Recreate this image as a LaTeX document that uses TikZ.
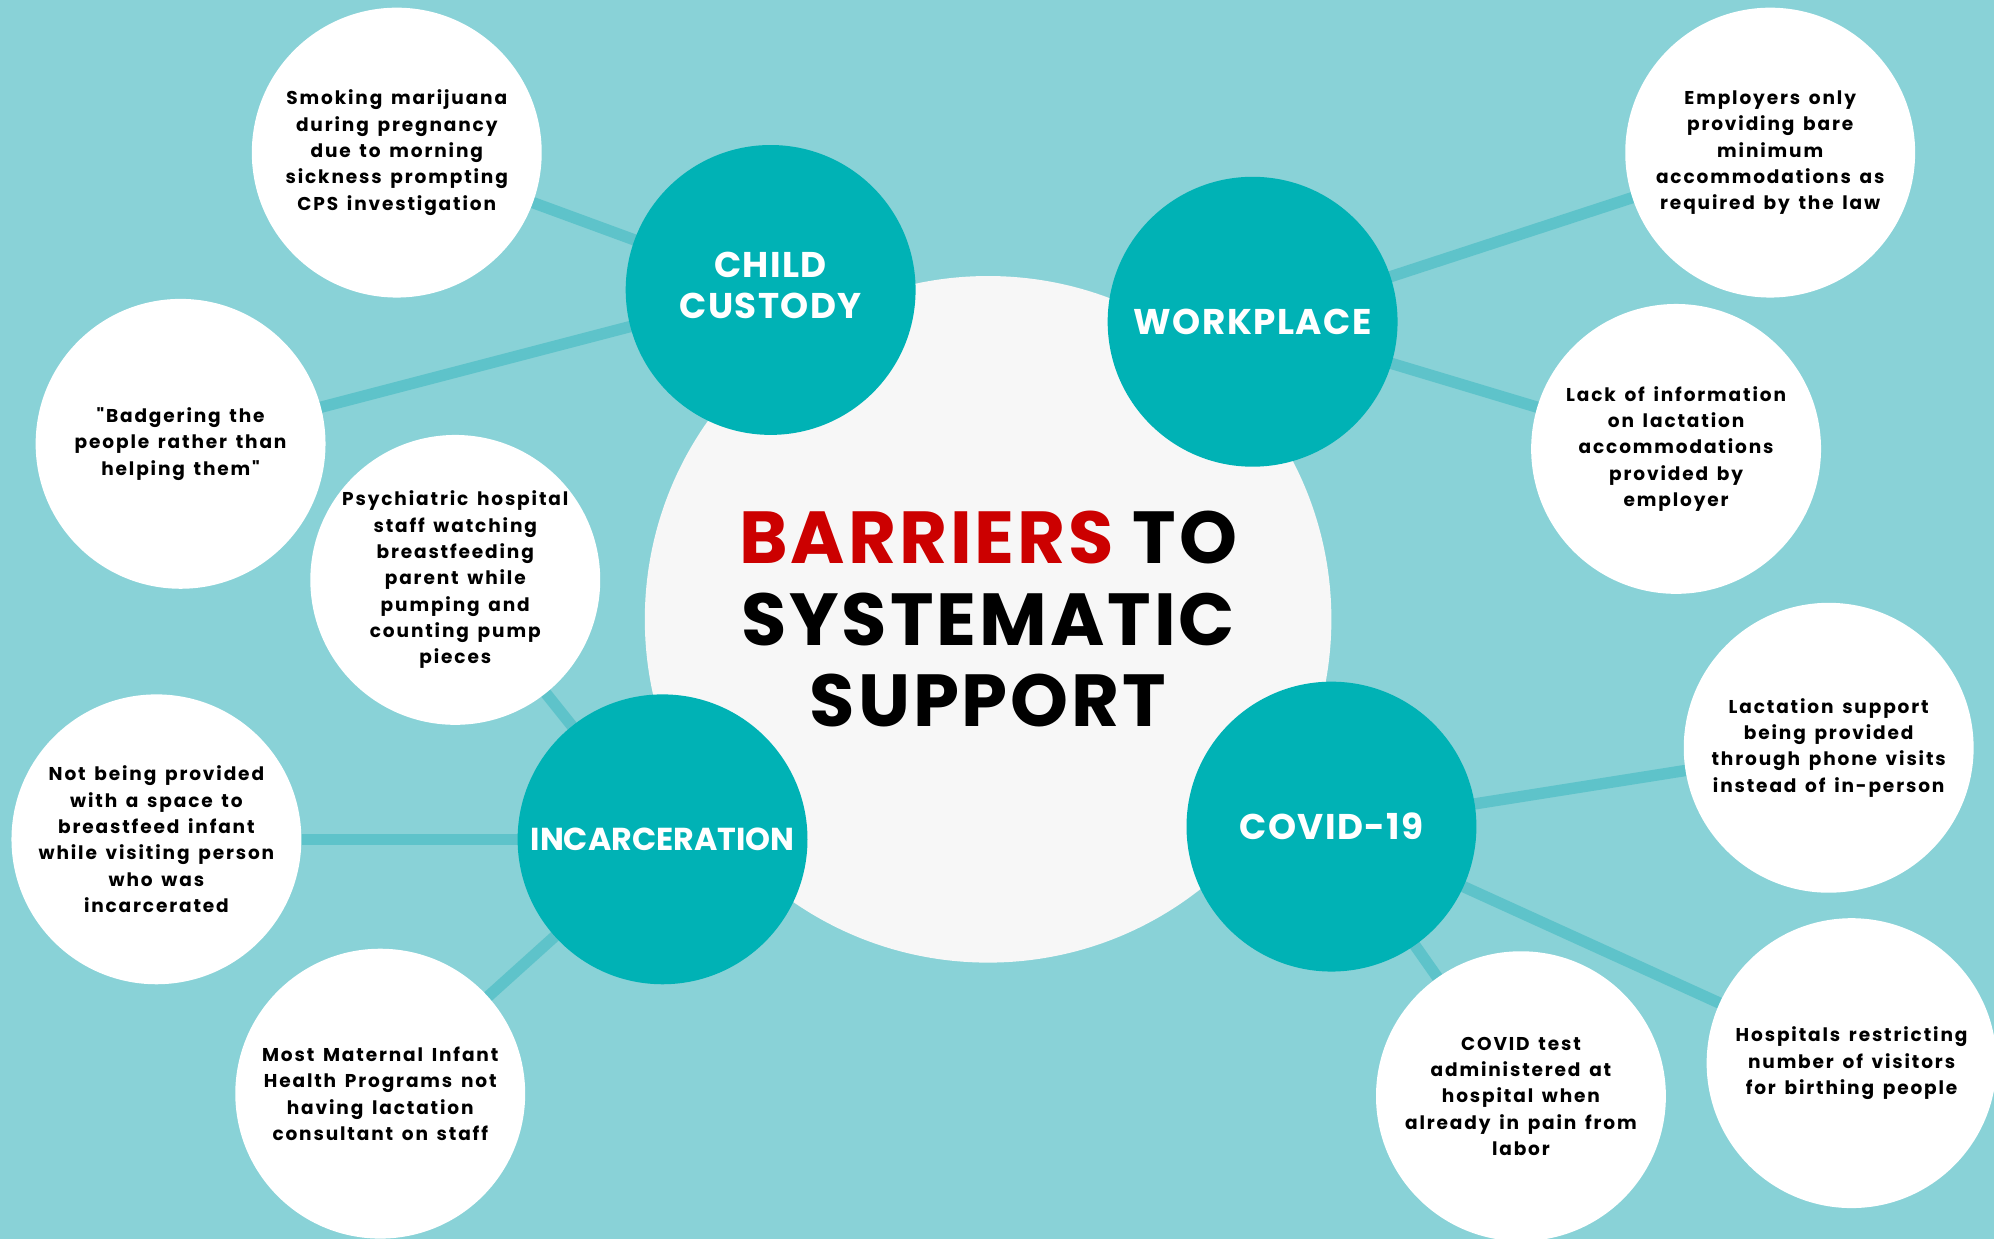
\documentclass[tikz,border=0pt]{standalone}
\usepackage{fontspec}
\setmainfont{Poppins}
\newfontfamily\bodyfont[LetterSpace=10,WordSpace=1.5]{Poppins}
\newfontfamily\catfont[LetterSpace=4]{Poppins}
\newfontfamily\catnarrow[LetterSpace=0]{Poppins}
\newfontfamily\titlefont[LetterSpace=4]{Poppins}
\definecolor{bgc}{HTML}{89D2D7}
\definecolor{tealc}{HTML}{00B2B5}
\definecolor{linkc}{HTML}{5EC3CA}
\definecolor{centc}{HTML}{F7F7F7}
\definecolor{redc}{HTML}{CC0000}
\pgfdeclarelayer{bg}
\pgfdeclarelayer{lines}
\pgfsetlayers{bg,lines,main}
\begin{document}
\begin{tikzpicture}[x=0.02cm,y=-0.02cm,
  bub/.style={circle,fill=white,minimum size=4.56cm,inner sep=0pt,align=center,
    font=\bodyfont\bfseries\fontsize{8.3}{11.8}\selectfont,text=black},
  cat/.style={circle,fill=tealc,minimum size=4.56cm,inner sep=0pt,align=center,
    font=\catfont\bfseries\fontsize{16}{18.2}\selectfont,text=white},
  link/.style={draw=linkc,line width=5.1pt}]
\useasboundingbox (0,0) rectangle (1568,974);
\clip (0,0) rectangle (1568,974);
\begin{pgfonlayer}{bg}
\fill[bgc] (0,0) rectangle (1568,974);
\end{pgfonlayer}
% central circle
\node[circle,fill=centc,minimum size=10.8cm,inner sep=0pt,align=center,
  font=\titlefont\bfseries\fontsize{33}{36.5}\selectfont,text=black] (center) at (777,487)
  {\textcolor{redc}{BARRIERS} TO\\SYSTEMATIC\\SUPPORT};
% categories
\node[cat] (child) at (606,228) {\raisebox{3pt}{\begin{tabular}{@{}c@{}}CHILD\\CUSTODY\end{tabular}}};
\node[cat] (work) at (985,253) {WORKPLACE};
\node[cat,font=\catnarrow\bfseries\fontsize{14.2}{16}\selectfont] (inc) at (521,660) {INCARCERATION};
\node[cat] (covid) at (1047,650) {COVID-19};
% bubbles
\node[bub] (smoke) at (312,120) {Smoking marijuana\\during pregnancy\\due to morning\\sickness prompting\\CPS investigation};
\node[bub] (badger) at (142,349) {"Badgering the\\people rather than\\helping them"};
\node[bub] (psych) at (358,456) {Psychiatric hospital\\staff watching\\breastfeeding\\parent while\\pumping and\\counting pump\\pieces};
\node[bub] (space) at (123,660) {Not being provided\\with a space to\\breastfeed infant\\while visiting person\\who was\\incarcerated};
\node[bub] (mih) at (299,860) {Most Maternal Infant\\Health Programs not\\having lactation\\consultant on staff};
\node[bub] (employ) at (1392,120) {Employers only\\providing bare\\minimum\\accommodations as\\required by the law};
\node[bub] (lack) at (1318,353) {Lack of information\\on lactation\\accommodations\\provided by\\employer};
\node[bub] (phone) at (1438,588) {Lactation support\\being provided\\through phone visits\\instead of in-person};
\node[bub] (test) at (1196,862) {COVID test\\administered at\\hospital when\\already in pain from\\labor};
\node[bub] (hosp) at (1456,836) {Hospitals restricting\\number of visitors\\for birthing people};
% connectors
\begin{pgfonlayer}{lines}
\draw[link] (smoke.center) -- (child.center);
\draw[link] (badger.center) -- (child.center);
\draw[link] (psych.center) -- (inc.center);
\draw[link] (space.center) -- (inc.center);
\draw[link] (mih.center) -- (inc.center);
\draw[link] (work.center) -- (employ.center);
\draw[link] (work.center) -- (lack.center);
\draw[link] (covid.center) -- (phone.center);
\draw[link] (covid.center) -- (hosp.center);
\draw[link] (covid.center) -- (test.center);
\end{pgfonlayer}
\end{tikzpicture}
\end{document}
